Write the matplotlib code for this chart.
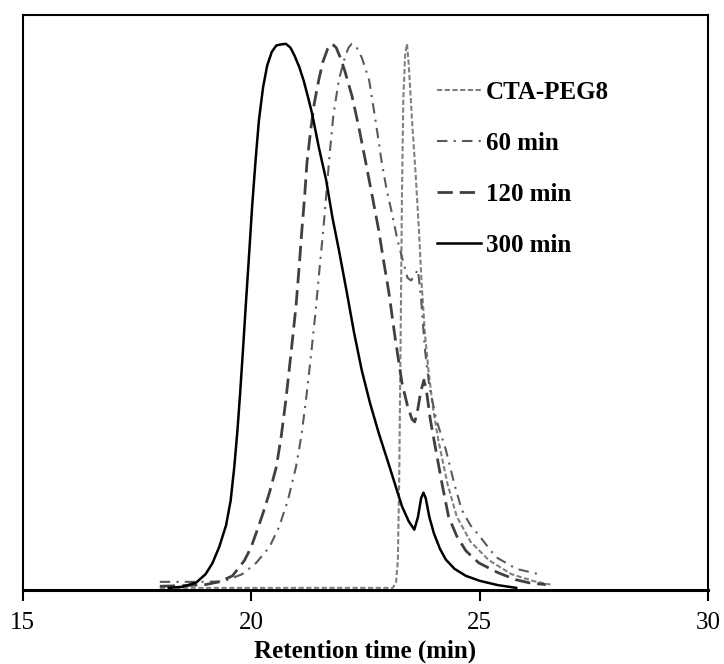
import matplotlib

matplotlib.use("Agg")
import matplotlib.pyplot as plt

plt.rcParams["font.family"] = ["Liberation Serif", "DejaVu Serif"]

# retention time (min) / normalised detector response
cta_x = [18.0, 23.10, 23.17, 23.21, 23.24, 23.27, 23.30, 23.33, 23.37, 23.41, 23.45, 23.52,
         23.60, 23.67, 23.73, 23.80, 23.88, 23.98, 24.10, 24.3, 24.5, 24.8, 25.2, 25.7, 26.2, 26.55]
cta_y = [0.0, 0.0, 0.01, 0.05, 0.2, 0.45, 0.72, 0.9, 0.98, 1.0, 0.96, 0.86,
         0.76, 0.66, 0.56, 0.47, 0.4, 0.33, 0.27, 0.19, 0.131, 0.085, 0.051, 0.025, 0.012, 0.006]

m60_x = [18.0, 18.9, 19.4, 19.8, 20.11, 20.4, 20.61, 20.8, 20.98, 21.1, 21.20, 21.3, 21.4,
         21.5, 21.58, 21.64, 21.72, 21.8, 21.92, 22.05, 22.13, 22.20, 22.3, 22.42, 22.58,
         22.72, 22.86, 22.97, 23.08, 23.2, 23.30, 23.42, 23.5, 23.58, 23.65, 23.72, 23.80,
         23.9, 24.05, 24.26, 24.45, 24.61, 24.8, 25.0, 25.35, 25.8, 26.35]
m60_y = [0.011, 0.011, 0.012, 0.025, 0.046, 0.075, 0.112, 0.16, 0.222, 0.28, 0.346, 0.42, 0.5,
         0.59, 0.66, 0.719, 0.8, 0.87, 0.934, 0.975, 0.993, 1.0, 0.995, 0.975, 0.934,
         0.86, 0.781, 0.73, 0.689, 0.64, 0.608, 0.57, 0.565, 0.575, 0.585, 0.53, 0.44,
         0.37, 0.31, 0.254, 0.19, 0.143, 0.115, 0.095, 0.057, 0.035, 0.024]

m120_x = [18.0, 18.5, 19.0, 19.3, 19.59, 19.85, 20.0, 20.11, 20.25, 20.4, 20.55, 20.66, 20.76,
          20.87, 20.98, 21.05, 21.11, 21.17, 21.22, 21.3, 21.38, 21.48, 21.57, 21.67, 21.77,
          21.86, 21.95, 22.05, 22.21, 22.36, 22.51, 22.65, 22.79, 22.9, 23.01, 23.15, 23.30,
          23.42, 23.52, 23.58, 23.64, 23.71, 23.78, 23.84, 23.92, 24.04, 24.18, 24.32, 24.5,
          24.7, 24.98, 25.4, 25.79, 26.1, 26.45]
m120_y = [0.003, 0.004, 0.006, 0.011, 0.022, 0.05, 0.075, 0.101, 0.135, 0.175, 0.222, 0.28, 0.346,
          0.43, 0.517, 0.59, 0.658, 0.72, 0.781, 0.84, 0.89, 0.934, 0.967, 0.99, 1.0,
          0.993, 0.975, 0.95, 0.903, 0.845, 0.781, 0.72, 0.658, 0.6, 0.545, 0.46, 0.377,
          0.335, 0.31, 0.305, 0.325, 0.36, 0.382, 0.36, 0.31, 0.254, 0.19, 0.131, 0.095,
          0.068, 0.046, 0.028, 0.015, 0.009, 0.006]

m300_x = [18.2, 18.5, 18.8, 19.0, 19.15, 19.3, 19.45, 19.55, 19.63, 19.70, 19.76, 19.83, 19.89,
          19.96, 20.02, 20.10, 20.17, 20.26, 20.35, 20.45, 20.55, 20.66, 20.76, 20.86, 20.95,
          21.05, 21.15, 21.25, 21.33, 21.48, 21.64, 21.78, 21.92, 22.10, 22.25, 22.42, 22.6,
          22.79, 23.0, 23.15, 23.3, 23.45, 23.57, 23.65, 23.72, 23.77, 23.82, 23.9, 24.0,
          24.13, 24.26, 24.45, 24.7, 25.0, 25.4, 25.8]
m300_y = [0.0, 0.002, 0.01, 0.025, 0.045, 0.075, 0.115, 0.16, 0.222, 0.29, 0.36, 0.45, 0.53,
          0.62, 0.70, 0.79, 0.86, 0.92, 0.96, 0.985, 0.997, 0.999, 1.0, 0.993, 0.978,
          0.958, 0.932, 0.90, 0.873, 0.81, 0.75, 0.68, 0.621, 0.54, 0.47, 0.40, 0.34,
          0.285, 0.23, 0.19, 0.15, 0.122, 0.107, 0.13, 0.165, 0.175, 0.165, 0.13, 0.1,
          0.072, 0.052, 0.035, 0.022, 0.013, 0.005, 0.0]

x_ticks = [15, 20, 25, 30]

fig = plt.figure(figsize=(7.24, 6.64), dpi=100)
ax = fig.add_axes([0.0314, 0.1114, 0.9466, 0.866])

ax.plot(cta_x, cta_y, color="#808080", linewidth=1.5, linestyle=(0, (2.5, 1.2)), label="CTA-PEG8")
ax.plot(m60_x, m60_y, color="#5a5a5a", linewidth=1.5, linestyle=(0, (5, 3, 1, 3)), label="60 min")
ax.plot(m120_x, m120_y, color="#404040", linewidth=2.0, linestyle=(0, (5.5, 2.5)), label="120 min")
ax.plot(m300_x, m300_y, color="black", linewidth=1.8, label="300 min")

ax.set_xlim(15, 30)
ax.set_ylim(-0.004, 1.053)
ax.set_xticks(x_ticks)
ax.set_yticks([])
ax.tick_params(axis="x", direction="out", length=8, width=1.5, labelsize=18, pad=8)
for spine in ax.spines.values():
    spine.set_linewidth(1.5)
ax.spines["bottom"].set_linewidth(2.2)
ax.set_xlabel("Retention time (min)", fontsize=18, fontweight="bold", labelpad=4)

ax.legend(
    loc="upper left",
    bbox_to_anchor=(0.605, 0.886),
    frameon=False,
    borderpad=0,
    borderaxespad=0,
    handlelength=1.75,
    handletextpad=0.2,
    labelspacing=1.12,
    prop={"size": 18, "weight": "bold"},
)

fig.savefig("out.png", dpi=100)
